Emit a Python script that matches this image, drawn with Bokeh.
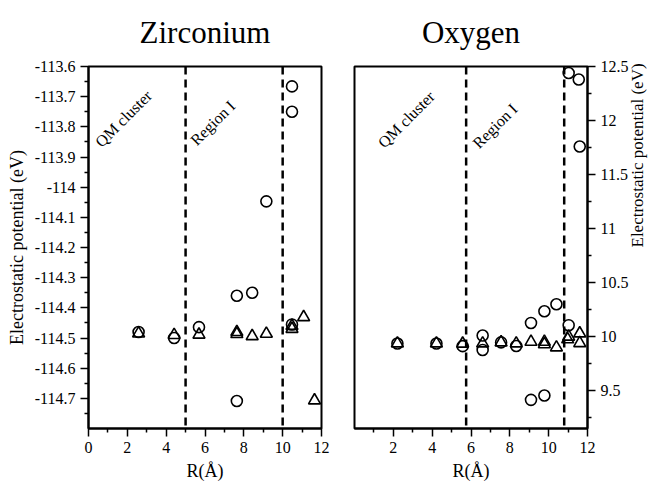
import math
from bokeh.plotting import figure
from bokeh.layouts import row
from bokeh.models import Span, Label, FixedTicker
from bokeh.embed import file_html
from bokeh.resources import INLINE

# ---- data ----
zr_circle_r = [2.58, 4.41, 5.69, 7.64, 7.64, 8.43, 9.16, 10.48, 10.48, 10.48]
zr_circle_v = [-114.48, -114.50, -114.464, -114.36, -114.709, -114.35, -114.047, -113.666, -113.75, -114.455]
zr_tri_r = [2.58, 4.41, 5.69, 7.64, 7.64, 8.43, 9.16, 10.48, 10.48, 11.08, 11.64]
zr_tri_v = [-114.485, -114.49, -114.489, -114.48, -114.487, -114.494, -114.486, -114.46, -114.47, -114.431, -114.707]

o_circle_r = [2.21, 4.22, 5.57, 6.6, 6.6, 7.55, 8.33, 9.09, 9.78, 10.4, 11.03, 9.09, 9.78, 11.03, 11.55, 11.6]
o_circle_v = [9.937, 9.937, 9.912, 10.01, 9.876, 9.947, 9.913, 10.127, 10.235, 10.30, 10.106, 9.415, 9.455, 12.44, 12.38, 11.76]
o_tri_r = [2.21, 4.22, 5.57, 6.6, 7.55, 8.33, 9.09, 9.78, 9.78, 10.4, 10.98, 11.03, 11.6, 11.6]
o_tri_v = [9.937, 9.937, 9.935, 9.937, 9.947, 9.937, 9.952, 9.952, 9.93, 9.90, 9.975, 10.0, 10.03, 9.94]

zr_regions = [5.0, 10.0]
o_regions = [5.75, 10.8]

x_ticks_left = [0, 2, 4, 6, 8, 10, 12]
x_ticks_right = [2, 4, 6, 8, 10, 12]
x_minor = [1, 3, 5, 7, 9, 11]
zr_yticks = [-113.6, -113.7, -113.8, -113.9, -114.0, -114.1, -114.2, -114.3, -114.4, -114.5, -114.6, -114.7]
zr_yminor = [-113.65, -113.75, -113.85, -113.95, -114.05, -114.15, -114.25, -114.35, -114.45, -114.55, -114.65, -114.75]
o_yticks = [9.5, 10, 10.5, 11, 11.5, 12, 12.5]
o_yminor = [9.25, 9.75, 10.25, 10.75, 11.25, 11.75, 12.25]

FONT = "Liberation Serif"


def style_axis(ax, label, size="18px"):
    ax.axis_label = label
    ax.axis_label_text_font = FONT
    ax.axis_label_text_font_style = "normal"
    ax.axis_label_text_font_size = size
    ax.axis_label_text_color = "black"
    ax.major_label_text_font = FONT
    ax.major_label_text_font_size = "16px"
    ax.major_label_text_color = "black"
    ax.axis_line_width = 2
    ax.axis_line_color = "black"
    ax.major_tick_line_color = "black"
    ax.minor_tick_line_color = "black"
    ax.major_tick_line_width = 1.5
    ax.minor_tick_line_width = 1.5
    ax.major_tick_out = 8
    ax.major_tick_in = 0
    ax.minor_tick_out = 4
    ax.minor_tick_in = 0


def make_panel(xr, yr, yloc, xticks, yticks, yminor, regions, cr, cv, tr, tv,
               title, labels, mbl, mbr):
    p = figure(frame_width=233, frame_height=362, x_range=xr, y_range=yr,
               y_axis_location=yloc, output_backend="svg", toolbar_location=None,
               min_border_left=mbl, min_border_right=mbr, min_border_top=66,
               min_border_bottom=55, title=title)
    p.title.align = "center"
    p.title.vertical_align = "top"
    p.title.text_font = FONT
    p.title.text_font_size = "31px"
    p.title.text_font_style = "normal"
    p.title.text_color = "black"
    p.title.standoff = 29
    p.grid.visible = False
    p.outline_line_color = "black"
    p.outline_line_width = 2
    p.outline_line_alpha = 1
    p.background_fill_color = "white"
    p.border_fill_color = "white"

    p.xaxis.ticker = FixedTicker(ticks=xticks, minor_ticks=x_minor)
    style_axis(p.xaxis[0], "R(Å)")
    p.yaxis.ticker = FixedTicker(ticks=yticks, minor_ticks=yminor)
    style_axis(p.yaxis[0], "Electrostatic potential (eV)",
               "18px" if yloc == "left" else "17px")
    p.yaxis.major_label_overrides = {t: ("%g" % t) for t in yticks}
    if yloc == "right":
        try:
            p.yaxis[0].axis_label_orientation = math.pi / 2
        except Exception:
            pass
        p.yaxis[0].axis_label_standoff = 6

    for r in regions:
        p.add_layout(Span(location=r, dimension="height", line_color="black",
                          line_width=2.5, line_dash="8 5"))

    p.scatter(cr, cv, marker="circle", size=11, fill_color=None,
              line_color="black", line_width=1.6)
    p.scatter(tr, tv, marker="triangle", size=12, fill_color=None,
              line_color="black", line_width=1.6)

    for (lx, ly, txt) in labels:
        p.add_layout(Label(x=lx, y=ly, text=txt, text_font=FONT,
                           text_font_size="16px", text_align="center",
                           text_color="black",
                           text_baseline="middle", angle=45, angle_units="deg"))
    return p


p1 = make_panel((0, 12), (-114.8, -113.6), "left", x_ticks_left, zr_yticks, zr_yminor,
                zr_regions, zr_circle_r, zr_circle_v, zr_tri_r, zr_tri_v,
                "Zirconium",
                [(1.8, -113.773, "QM cluster"), (6.4, -113.787, "Region I")],
                88, 18)
p2 = make_panel((0, 12), (9.15, 12.5), "right", x_ticks_right, o_yticks, o_yminor,
                o_regions, o_circle_r, o_circle_v, o_tri_r, o_tri_v,
                "Oxygen",
                [(2.67, 12.01, "QM cluster"), (7.24, 11.95, "Region I")],
                15, 63)

layout = row(p1, p2)
open("out.html", "w").write(file_html(layout, INLINE))
